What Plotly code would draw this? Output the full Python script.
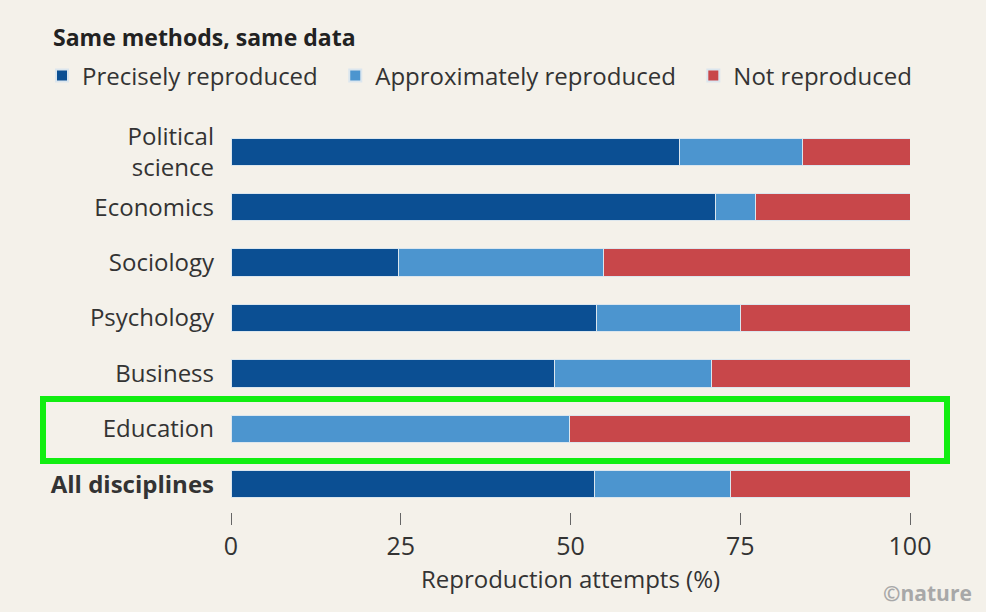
import plotly.graph_objects as go

categories = ["Political<br>science", "Economics", "Sociology", "Psychology",
              "Business", "Education", "<b>All disciplines</b>"]
precisely = [66.0, 71.4, 24.7, 53.9, 47.6, 0.0, 53.5]
approximately = [18.1, 5.8, 30.1, 21.1, 23.1, 49.9, 20.0]
not_reproduced = [15.9, 22.8, 45.2, 25.0, 29.3, 50.1, 26.5]
series_names = ["Precisely reproduced", "Approximately reproduced", "Not reproduced"]
x_ticks = [0, 25, 50, 75, 100]

BG = "#f4f1ea"
colors = ["#0b4f93", "#4c95cf", "#c8474a"]
FONT = "Open Sans"
PAD = "\u00a0\u00a0"

fig = go.Figure()
for i, (name, vals, col) in enumerate(zip(series_names, [precisely, approximately, not_reproduced], colors)):
    label = name + (PAD if i < len(series_names) - 1 else "")
    fig.add_trace(go.Bar(
        y=categories, x=vals, name=label, orientation="h",
        marker=dict(color=col, line=dict(color="#dbe6ee", width=1)),
        width=0.49,
    ))

fig.update_layout(
    barmode="stack",
    width=986, height=612,
    paper_bgcolor=BG, plot_bgcolor=BG,
    margin=dict(l=231, r=76, t=124, b=100),
    font=dict(family=FONT, color="#333333"),
    title=dict(text="<b>Same methods, same data</b>", x=53/986, xanchor="left",
               xref="container", y=1 - 38/612, yref="container", yanchor="middle",
               font=dict(size=23, color="#222222", family=FONT)),
    legend=dict(orientation="h", x=(42 - 231) / 679, xanchor="left", y=1.124, yanchor="middle",
                font=dict(size=24, color="#333333", family=FONT),
                itemsizing="constant", traceorder="normal", bgcolor="rgba(0,0,0,0)"),
    showlegend=True,
)
fig.update_xaxes(range=[0, 100], tickvals=x_ticks, ticktext=[str(t) for t in x_ticks],
                 showgrid=False, zeroline=False, showline=False,
                 ticks="outside", ticklen=12, tickcolor="#666666", tickwidth=1,
                 tickfont=dict(size=25, color="#333333"),
                 title=dict(text="Reproduction attempts (%)", font=dict(size=24, color="#333333"), standoff=0))
fig.update_yaxes(autorange="reversed", showgrid=False, zeroline=False, showline=False,
                 ticks="", ticklabelstandoff=16,
                 tickfont=dict(size=24, color="#333333"))

fig.add_shape(type="rect", xref="paper", yref="paper",
              x0=(43 - 231) / 679, x1=(947 - 231) / 679,
              y0=(512 - 461) / 388, y1=(512 - 399) / 388,
              line=dict(color="#11ee11", width=6), fillcolor="rgba(0,0,0,0)")

fig.add_annotation(text="<b>©nature</b>", xref="paper", yref="paper",
                   x=(974 - 231) / 679, xanchor="right", y=(512 - 593) / 388, yanchor="middle",
                   showarrow=False, font=dict(size=21, color="#a8a8a8", family=FONT))

fig.write_html("out.html", config={"displayModeBar": False},
               post_script="document.body.style.margin='0';document.body.style.overflow='hidden';")
